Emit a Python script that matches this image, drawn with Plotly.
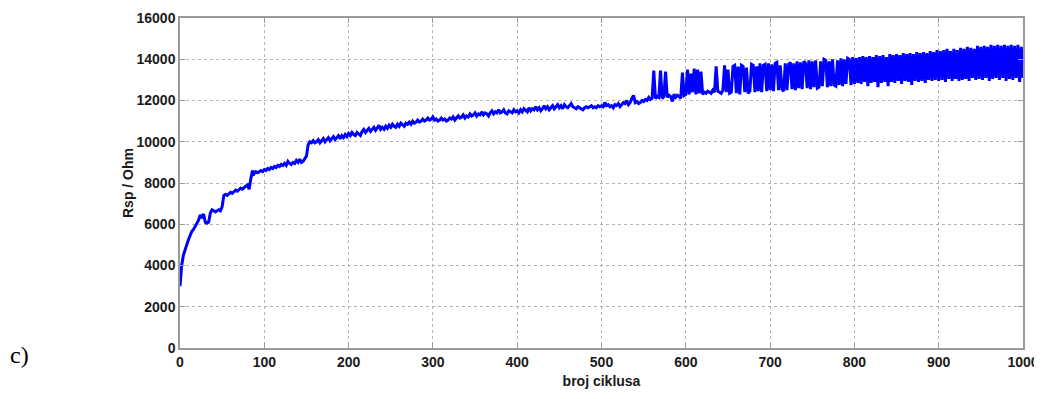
import plotly.graph_objects as go

# Resistance Rsp (Ohm), every 2nd cycle, per block of 50 cycles
rsp_000_048 = [3000, 4000, 4500, 4800, 5000, 5250, 5450, 5650, 5750, 5900, 6050, 6200, 6450, 6300, 6500,
               6100, 6050, 6100, 6550, 6700, 6650, 6600, 6650, 6700, 6650]
rsp_050_098 = [6850, 7400, 7450, 7400, 7500, 7550, 7500, 7600, 7650, 7600, 7700, 7750, 7700, 7800, 7850,
               7900, 7700, 8200, 8600, 8450, 8550, 8500, 8550, 8600, 8550]
rsp_100_148 = [8650, 8600, 8700, 8650, 8750, 8700, 8800, 8750, 8850, 8800, 8900, 8850, 8950, 8850, 9050,
               8950, 8900, 9000, 8950, 9100, 9000, 9150, 9000, 9050, 9150]
rsp_150_198 = [9300, 9850, 10000, 9950, 10050, 9950, 10000, 10100, 9950, 10050, 10150, 10000, 10100, 10200,
               10050, 10150, 10250, 10100, 10200, 10300, 10150, 10300, 10200, 10350, 10250]
rsp_200_248 = [10400, 10300, 10450, 10350, 10300, 10450, 10350, 10300, 10500, 10600, 10450, 10550, 10650,
               10500, 10600, 10700, 10550, 10650, 10800, 10600, 10700, 10600, 10750, 10650, 10800]
rsp_250_298 = [10700, 10850, 10750, 10700, 10850, 10750, 10900, 10800, 10750, 10900, 10850, 10950, 10850,
               11000, 10900, 10950, 11050, 10950, 11000, 11100, 11000, 11050, 11150, 11050, 11100]
rsp_300_348 = [11200, 11050, 11100, 11000, 11050, 11150, 11050, 11100, 11000, 11050, 11150, 11100, 11200,
               11050, 11150, 11250, 11150, 11200, 11300, 11150, 11250, 11200, 11350, 11250, 11300]
rsp_350_398 = [11400, 11250, 11350, 11300, 11450, 11300, 11400, 11350, 11250, 11400, 11500, 11350, 11450,
               11400, 11550, 11400, 11450, 11550, 11400, 11350, 11500, 11450, 11400, 11550, 11450]
rsp_400_448 = [11500, 11400, 11550, 11450, 11600, 11500, 11450, 11650, 11500, 11600, 11550, 11700, 11550,
               11650, 11500, 11600, 11750, 11600, 11700, 11550, 11650, 11750, 11600, 11700, 11800]
rsp_450_498 = [11650, 11750, 11600, 11800, 11700, 11650, 11750, 11850, 11700, 11650, 11600, 11700, 11650,
               11600, 11550, 11650, 11700, 11650, 11700, 11750, 11650, 11700, 11650, 11750, 11700]
rsp_500_548 = [11750, 11700, 11900, 11750, 11800, 11700, 11750, 11650, 11800, 11750, 11850, 11700, 11800,
               11900, 11850, 12000, 11800, 11900, 12100, 12250, 11900, 11950, 11850, 11900, 12000]
rsp_550_598 = [11950, 12050, 12000, 12150, 12050, 12100, 13450, 12100, 12200, 12150, 13450, 12100, 12200,
               13400, 12150, 12250, 12200, 11950, 12300, 12150, 12250, 12200, 12100, 13350, 12250]
rsp_600_648 = [12300, 13500, 12300, 13300, 12400, 13550, 12300, 13500, 12350, 13400, 12300, 12400, 12350,
               12450, 12400, 12350, 12500, 12400, 13650, 12450, 12400, 12350, 12500, 13700, 12400]
rsp_650_698 = [13500, 12350, 12400, 13650, 13700, 12350, 13650, 12300, 13700, 13650, 12400, 13600, 12350,
               12450, 13750, 13700, 12400, 13650, 12450, 13800, 12400, 13700, 13750, 12450, 13800]
rsp_700_748 = [12500, 13750, 12450, 13800, 13850, 12500, 13700, 12550, 12450, 13800, 12500, 13750, 13850,
               12550, 13800, 12500, 13900, 12600, 13850, 12550, 13900, 13800, 12600, 13950, 12550]
rsp_750_798 = [13900, 12650, 13950, 12600, 12650, 13900, 12700, 14000, 13950, 12650, 13900, 12700, 14000,
               12750, 12700, 13950, 12750, 14050, 12700, 14000, 12800, 14050, 14000, 12750, 14100]
rsp_800_848 = [12800, 14050, 12850, 14100, 12800, 14150, 12900, 14100, 12700, 14150, 12850, 14100, 12900,
               14200, 12650, 14150, 12850, 14200, 12900, 14100, 12700, 14250, 12900, 14200, 12850]
rsp_850_898 = [14250, 12950, 14200, 12800, 14300, 12950, 14250, 12900, 14300, 12750, 14250, 12950, 14350,
               12900, 14300, 12950, 14350, 12850, 14300, 13000, 14400, 12950, 14350, 13000, 14450]
rsp_900_948 = [12950, 14400, 13000, 14450, 12900, 14500, 13050, 14400, 12950, 14500, 13050, 14450, 12950,
               14550, 13000, 14500, 13050, 14600, 12950, 14550, 13100, 14500, 13000, 14650, 13050]
rsp_950_1000 = [14600, 13000, 14650, 13100, 14600, 12950, 14700, 13050, 14650, 13100, 14700, 13000, 14650,
                13100, 14700, 12950, 14650, 13050, 14700, 13000, 14650, 13100, 14700, 12900, 14600, 13100]

rsp = (rsp_000_048 + rsp_050_098 + rsp_100_148 + rsp_150_198 + rsp_200_248 + rsp_250_298
       + rsp_300_348 + rsp_350_398 + rsp_400_448 + rsp_450_498 + rsp_500_548 + rsp_550_598
       + rsp_600_648 + rsp_650_698 + rsp_700_748 + rsp_750_798 + rsp_800_848 + rsp_850_898
       + rsp_900_948 + rsp_950_1000)
cycles = list(range(0, 2 * len(rsp), 2))

x_ticks = [0, 100, 200, 300, 400, 500, 600, 700, 800, 900, 1000]
y_ticks = [0, 2000, 4000, 6000, 8000, 10000, 12000, 14000, 16000]

fig = go.Figure()
fig.add_trace(go.Scatter(x=cycles, y=rsp, mode="lines",
                         line=dict(color="#0000ff", width=3),
                         showlegend=False, hoverinfo="skip"))

font_main = dict(family="Liberation Sans, Arial, sans-serif", size=14, color="#1a1a1a")

axis_common = dict(showline=True, linecolor="#9a9a9a", linewidth=1.5, mirror="allticks",
                   ticks="inside", ticklen=5, tickcolor="#9a9a9a", showgrid=True,
                   gridcolor="#b4b4b4", griddash="dot", gridwidth=1, zeroline=False,
                   automargin=False,
                   tickfont=dict(family="Liberation Sans, Arial, sans-serif", size=14,
                                 color="#1a1a1a", weight="bold"))

fig.update_xaxes(range=[0, 1000], tickvals=x_ticks, ticktext=[str(v) for v in x_ticks],
                 title=dict(text="<b>broj ciklusa</b>", font=font_main, standoff=8), **axis_common)
fig.update_yaxes(range=[0, 16000], tickvals=y_ticks, ticktext=[str(v) for v in y_ticks],
                 title=dict(text="<b>Rsp / Ohm</b>", font=font_main, standoff=0), **axis_common)

fig.add_annotation(text="c)", xref="paper", yref="paper", x=-0.2035, y=-0.021,
                   xanchor="left", yanchor="middle", showarrow=False,
                   font=dict(family="Liberation Serif, Times New Roman, serif", size=24, color="#000000"))

# the page has an 8 px body margin, so the figure is sized to 1034 x 391
fig.update_layout(width=1034, height=391, margin=dict(l=172, r=19, t=10, b=51),
                  paper_bgcolor="white", plot_bgcolor="white")

fig.write_html("out.html")
